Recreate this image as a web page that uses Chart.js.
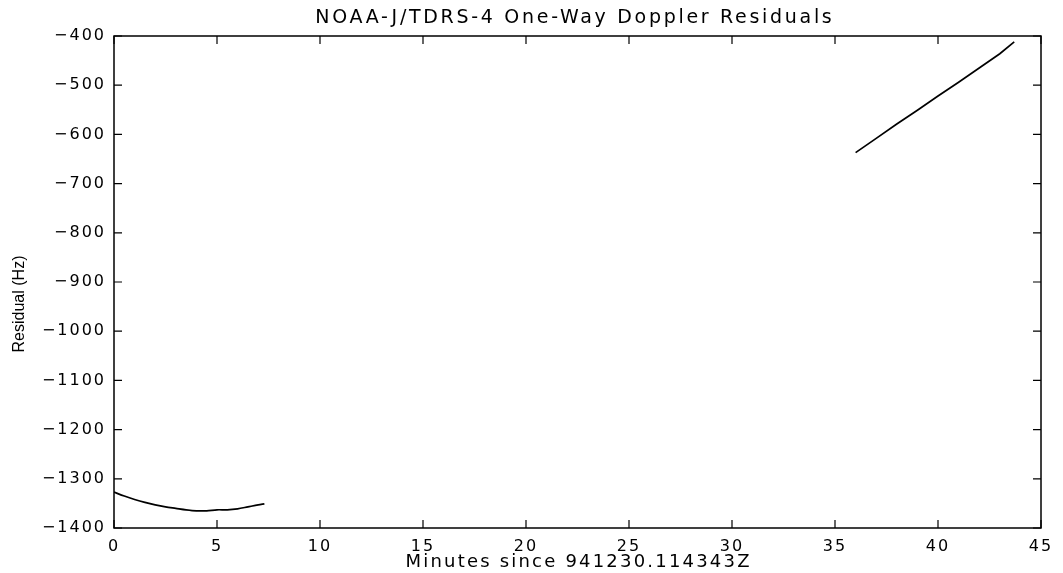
<!DOCTYPE html>
<html>
<head>
<meta charset="utf-8">
<script src="https://cdn.jsdelivr.net/npm/chart.js@4/dist/chart.umd.min.js"></script>
<style>
  html, body { margin: 0; padding: 0; background: #fff; }
  #wrap { width: 1063px; height: 573px; }
</style>
</head>
<body>
<div id="wrap"><canvas id="c" width="1063" height="573"></canvas></div>
<script>
// ---- data ----
const titleText = "NOAA-J/TDRS-4 One-Way Doppler Residuals";
const xTitle = "Minutes since 941230.114343Z";
const yTitle = "Residual (Hz)";

const pass1Minutes = [0, 0.5, 1, 1.5, 2, 2.5, 3, 3.5, 4, 4.5, 5, 5.5, 6, 6.5, 7, 7.3];
const pass1Residual = [-1327, -1335, -1342, -1348, -1353, -1357, -1360, -1363, -1365, -1365, -1363, -1363, -1361, -1357, -1353, -1351];

const pass2Minutes = [36, 37, 38, 39, 40, 41, 42, 43, 43.7];
const pass2Residual = [-637, -608, -579, -551, -522, -494, -465, -436, -412];

const xTicks = [0, 5, 10, 15, 20, 25, 30, 35, 40, 45];
const yTicks = [-1400, -1300, -1200, -1100, -1000, -900, -800, -700, -600, -500, -400];

const toPts = (xs, ys) => xs.map((x, i) => ({ x: x, y: ys[i] }));
const fmt = v => String(v).replace('-', '\u2212');

function spacedText(ctx, text, cx, baseY, font, spacing) {
  ctx.font = font;
  ctx.letterSpacing = spacing + 'px';
  const w = ctx.measureText(text).width - spacing;
  ctx.textAlign = 'left';
  ctx.textBaseline = 'alphabetic';
  ctx.fillText(text, cx - w / 2, baseY);
}

// inward ticks + full box, MATLAB style, plus titles
const boxPlugin = {
  id: 'box',
  beforeDraw(chart) {
    chart.ctx.letterSpacing = '2px';
  },
  afterDraw(chart) {
    const ctx = chart.ctx;
    const a = chart.chartArea;
    const xs = chart.scales.x, ys = chart.scales.y;
    const L = 8;
    ctx.save();
    ctx.letterSpacing = '0px';
    ctx.strokeStyle = '#000';
    ctx.lineWidth = 1.5;
    ctx.strokeRect(a.left, a.top, a.right - a.left, a.bottom - a.top);
    ctx.lineWidth = 1.2;
    ctx.beginPath();
    xTicks.forEach(v => {
      const px = xs.getPixelForValue(v);
      ctx.moveTo(px, a.bottom); ctx.lineTo(px, a.bottom - L);
      ctx.moveTo(px, a.top); ctx.lineTo(px, a.top + L);
    });
    yTicks.forEach(v => {
      const py = ys.getPixelForValue(v);
      ctx.moveTo(a.left, py); ctx.lineTo(a.left + L, py);
      ctx.moveTo(a.right, py); ctx.lineTo(a.right - L, py);
    });
    ctx.stroke();
    ctx.fillStyle = '#000';
    // chart title
    spacedText(ctx, titleText, (a.left + a.right) / 2 - 4, 23, "19px 'DejaVu Sans', sans-serif", 2.7);
    // x axis title
    spacedText(ctx, xTitle, (a.left + a.right) / 2, 567, "18px 'DejaVu Sans', sans-serif", 2.2);
    // y axis title (narrow font)
    ctx.letterSpacing = '0px';
    ctx.font = "16px 'Liberation Sans Narrow', 'Liberation Sans', sans-serif";
    ctx.textAlign = 'center';
    ctx.textBaseline = 'middle';
    ctx.translate(20, 304);
    ctx.rotate(-Math.PI / 2);
    ctx.fillText(yTitle, 0, 0);
    ctx.restore();
  }
};

Chart.defaults.font.family = "'DejaVu Sans', sans-serif";
Chart.defaults.color = '#000';

new Chart(document.getElementById('c'), {
  type: 'line',
  data: {
    datasets: [
      { data: toPts(pass1Minutes, pass1Residual), borderColor: '#000', borderWidth: 1.7, pointRadius: 0, tension: 0.3, fill: false },
      { data: toPts(pass2Minutes, pass2Residual), borderColor: '#000', borderWidth: 1.7, pointRadius: 0, tension: 0, fill: false }
    ]
  },
  options: {
    responsive: false,
    animation: false,
    layout: { padding: { left: 0, right: 22, top: 36, bottom: 0 } },
    plugins: {
      legend: { display: false },
      tooltip: { enabled: false },
      title: { display: false }
    },
    scales: {
      x: {
        type: 'linear',
        min: 0, max: 45,
        afterBuildTicks: s => { s.ticks = xTicks.map(v => ({ value: v })); },
        afterFit: s => { s.height = 45; },
        grid: { display: false, drawTicks: false },
        border: { display: false },
        ticks: { font: { size: 16 }, padding: 9, maxRotation: 0, callback: v => fmt(v) },
        title: { display: false }
      },
      y: {
        type: 'linear',
        min: -1400, max: -400,
        afterBuildTicks: s => { s.ticks = yTicks.map(v => ({ value: v })); },
        afterFit: s => { s.width = 114; },
        grid: { display: false, drawTicks: false },
        border: { display: false },
        ticks: { font: { size: 16 }, padding: 8, callback: v => fmt(v) }
      }
    }
  },
  plugins: [boxPlugin]
});
</script>
</body>
</html>
